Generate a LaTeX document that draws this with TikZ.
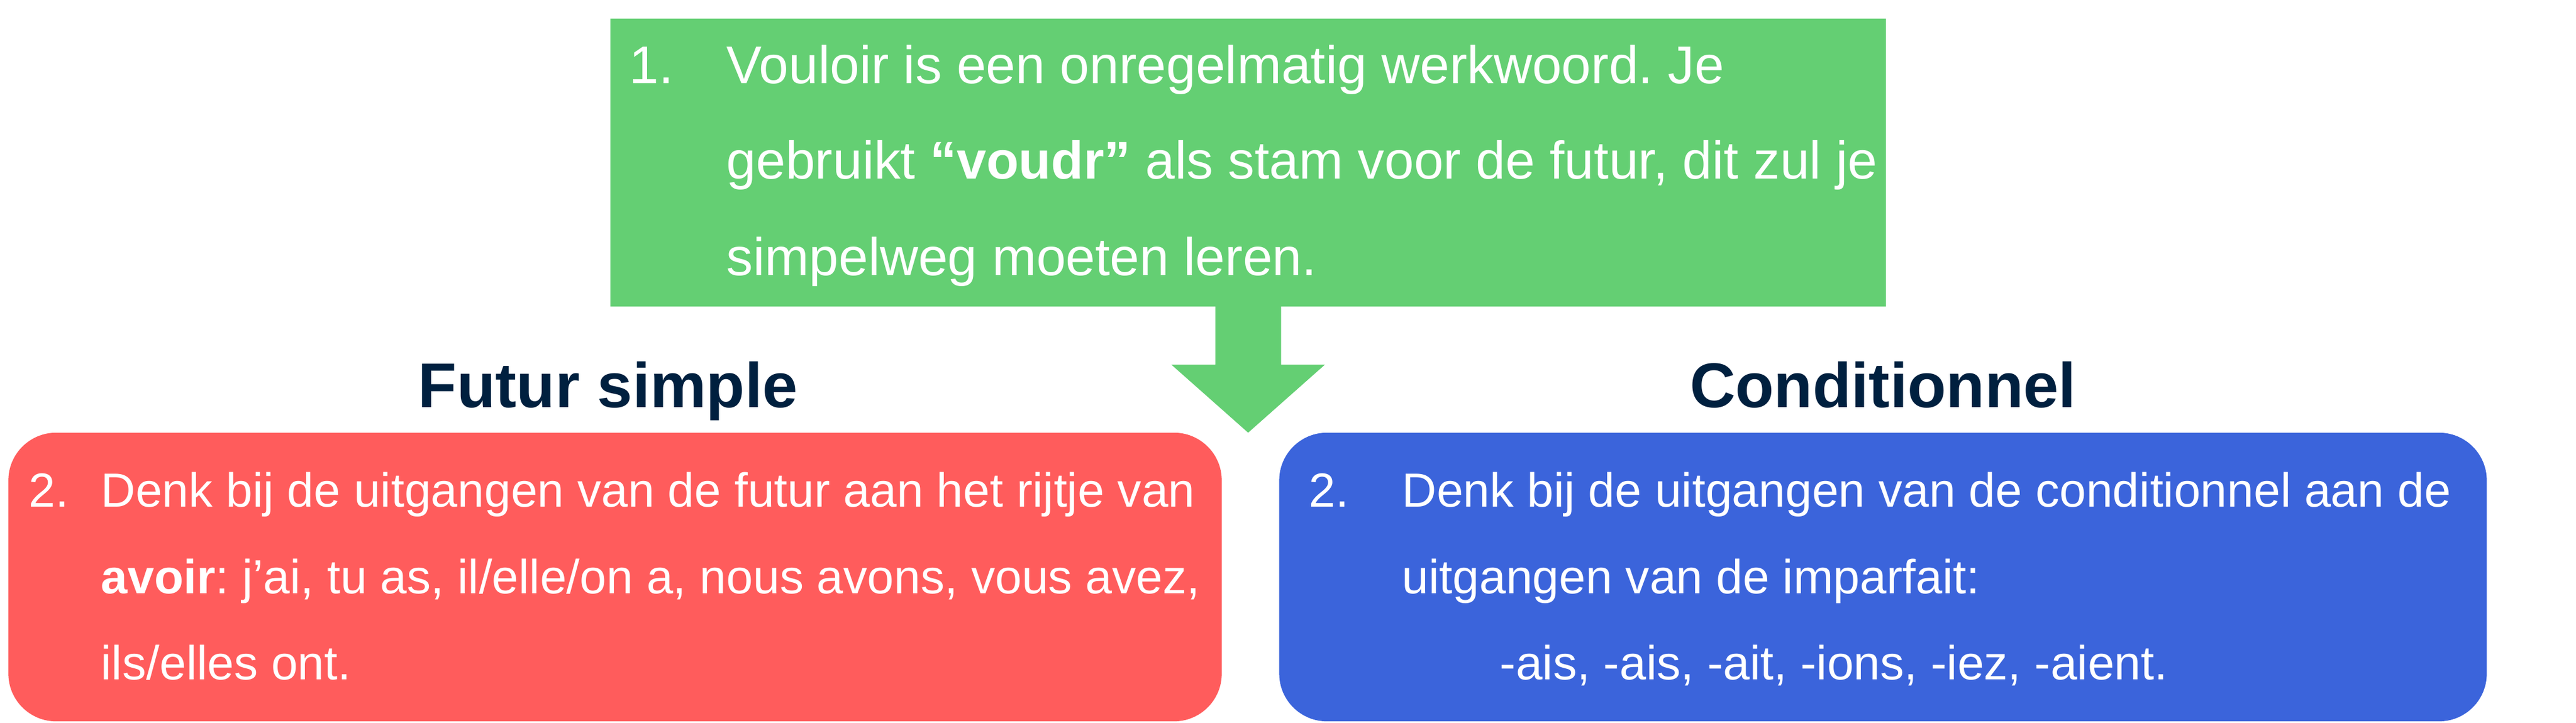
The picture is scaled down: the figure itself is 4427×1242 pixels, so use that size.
\documentclass[tikz,border=0pt]{standalone}
\usepackage{fontspec}
\setmainfont{Liberation Sans}
\usepackage{tikz}
\usetikzlibrary{positioning,calc}
\definecolor{groen}{HTML}{64CF73}
\definecolor{rood}{HTML}{FF5C5C}
\definecolor{blauw}{HTML}{3B64DB}
\definecolor{donker}{HTML}{00203F}
\tikzstyle{vak} = [rectangle,draw=none,inner sep=0pt]
\tikzstyle{regel} = [inner sep=0pt,text=white,anchor=base west]
\tikzstyle{kop} = [inner sep=0pt,text=donker,anchor=base,font=\fontsize{30.9}{36}\selectfont\bfseries]
\newcommand{\grootfont}{\fontsize{25.95}{32}\selectfont}
\newcommand{\kleinfont}{\fontsize{23.4}{28}\selectfont}
\frenchspacing

\begin{document}
\begin{tikzpicture}[x=0.01cm,y=-0.01cm]
    \useasboundingbox (0,0) rectangle (4427,1242);

    \node [vak,fill=groen,minimum width=21.90cm,minimum height=4.95cm] (groenvak) at (2145,279.5) {};
    \node [vak,fill=rood,rounded corners=0.82cm,minimum width=20.84cm,minimum height=4.96cm] (roodvak) at (1057,992) {};
    \node [vak,fill=blauw,rounded corners=0.82cm,minimum width=20.74cm,minimum height=4.96cm] (blauwvak) at (3236,992) {};

    % pijl naar beneden
    \fill [groen] ($(groenvak.south)+(-56.5,-1)$) -- ($(groenvak.south)+(-56.5,99)$) -- ($(groenvak.south)+(-132,99)$)
      -- ($(groenvak.south)+(0,216)$) -- ($(groenvak.south)+(132,99)$) -- ($(groenvak.south)+(56.5,99)$)
      -- ($(groenvak.south)+(56.5,-1)$) -- cycle;

    \node [kop] (futur) at ($(roodvak.north)+(-12,-43)$) {Futur simple};
    \node [kop] (cond) at ($(blauwvak.north)+(0,-43)$) {Conditionnel};

    \node [regel,font=\grootfont] (n1) at (1081,143) {1.};
    \node [regel,font=\grootfont] (g1) at (1248,143) {Vouloir is een onregelmatig werkwoord. Je};
    \node [regel,font=\grootfont] (g2) at (1248,307) {gebruikt \textbf{“voudr”} als stam voor de futur, dit zul je};
    \node [regel,font=\grootfont] (g3) at (1248,473) {simpelweg moeten leren.};

    \node [regel,font=\kleinfont] (n2) at (49,871) {2.};
    \node [regel,font=\kleinfont] (r1) at (173,871) {Denk bij de uitgangen van de futur aan het rijtje van};
    \node [regel,font=\kleinfont] (r2) at (173,1020) {\textbf{avoir}: j’ai, tu as, il/elle/on a, nous avons, vous avez,};
    \node [regel,font=\kleinfont] (r3) at (173,1168) {ils/elles ont.};

    \node [regel,font=\kleinfont] (n3) at (2249,871) {2.};
    \node [regel,font=\kleinfont] (b1) at (2409,871) {Denk bij de uitgangen van de conditionnel aan de};
    \node [regel,font=\kleinfont] (b2) at (2409,1020) {uitgangen van de imparfait:};
    \node [regel,font=\kleinfont] (b3) at (2577,1168) {-ais, -ais, -ait, -ions, -iez, -aient.};
  \end{tikzpicture}
\end{document}
